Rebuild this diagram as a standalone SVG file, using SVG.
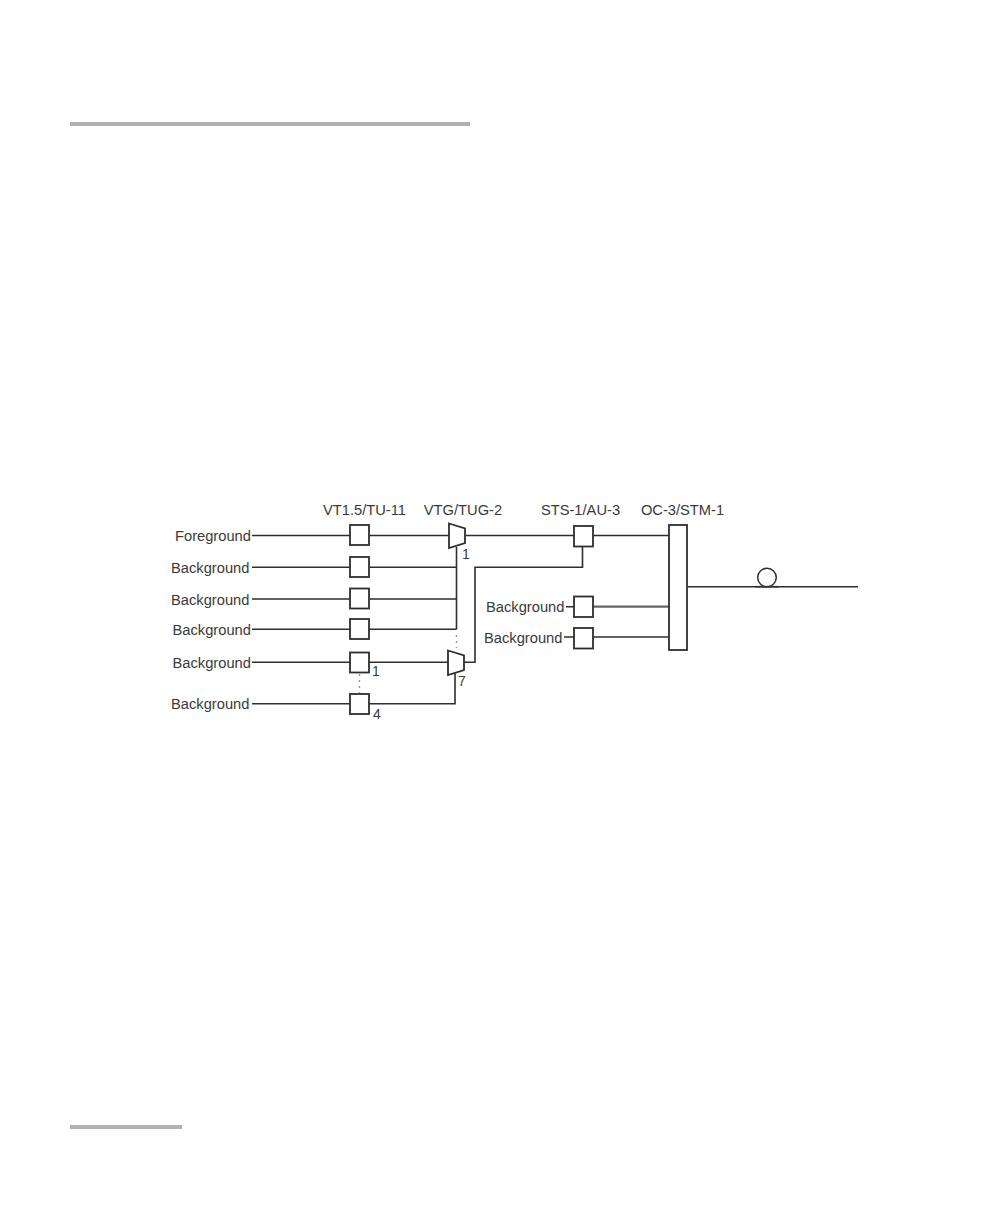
<svg xmlns="http://www.w3.org/2000/svg" width="1008" height="1224" viewBox="0 0 1008 1224">
<style>
.t{font-family:"Liberation Sans",Arial,sans-serif;font-size:14.7px;fill:#3a3a3a}
.n{font-size:14px}
.b{fill:#fff;stroke:#2e2e2e;stroke-width:1.8}
.c{fill:none;stroke:#2e2e2e;stroke-width:1.6}
.d{fill:none;stroke:#999;stroke-width:1.4;stroke-dasharray:2 4}
.r{fill:#b2b2b2}
</style>
<rect width="1008" height="1224" fill="#fff"/>
<rect class="r" x="70" y="122" width="400" height="4"/>
<rect class="r" x="70" y="1125" width="112" height="4"/>
<g id="connectors">
<path class="c" d="M252 535.500H449M252 567.300H456.500M252 599H456.500M252 629.300H456.500M252 662.300H448M252 703.700H455V672"/>
<path class="c" d="M456.500 547V629.300"/>
<path class="d" d="M456.500 635V648"/>
<path class="d" d="M359.500 674V693"/>
<path class="c" d="M465 535.500H574M464 662.300H475V567.300H582.500V546"/>
<path class="c" d="M592 535.500H669M592 637H669M688 586.700H858"/>
<path class="c" d="M566 606.700H574M564 637H574"/>
<path class="c" style="stroke:#666;stroke-width:2.200" d="M592 606.700H669"/>
</g>
<g id="vt1"><rect class="b" x="350" y="525" width="19" height="20"/></g>
<g id="vt2"><rect class="b" x="350" y="557" width="19" height="20"/></g>
<g id="vt3"><rect class="b" x="350" y="588.500" width="19" height="20"/></g>
<g id="vt4"><rect class="b" x="350" y="619" width="19" height="20"/></g>
<g id="vt5"><rect class="b" x="350" y="652.500" width="19" height="20"/></g>
<g id="vt6"><rect class="b" x="350" y="694" width="19" height="20"/></g>
<g id="mux1"><path class="b" d="M449 523.500L465 528.500V543L449 548Z"/></g>
<g id="mux2"><path class="b" d="M448 650.500L464 655.500V670L448 675Z"/></g>
<g id="sts1"><rect class="b" x="574" y="526" width="19" height="20.500"/></g>
<g id="sts2"><rect class="b" x="574" y="596.500" width="19" height="20.500"/></g>
<g id="sts3"><rect class="b" x="574" y="628" width="19" height="20.500"/></g>
<g id="oc3"><rect class="b" x="669" y="525" width="18" height="125"/></g>
<g id="fiber"><circle cx="767" cy="577.500" r="9.300" class="b" style="stroke-width:1.500"/><path class="c" d="M755 586.700H779"/></g>
<g id="labels">
<text class="t" x="364.500" y="514.500" text-anchor="middle">VT1.5/TU-11</text>
<text class="t" x="463" y="514.500" text-anchor="middle">VTG/TUG-2</text>
<text class="t" x="580.500" y="515" text-anchor="middle">STS-1/AU-3</text>
<text class="t" x="682.500" y="515" text-anchor="middle">OC-3/STM-1</text>
<text class="t" x="175" y="541">Foreground</text>
<text class="t" x="171" y="573">Background</text>
<text class="t" x="171" y="604.500">Background</text>
<text class="t" x="172.500" y="635">Background</text>
<text class="t" x="172.500" y="668">Background</text>
<text class="t" x="171" y="709">Background</text>
<text class="t" x="486" y="612">Background</text>
<text class="t" x="484" y="643">Background</text>
<text class="t n" x="462" y="559">1</text>
<text class="t n" x="372" y="676">1</text>
<text class="t n" x="458" y="686">7</text>
<text class="t n" x="373" y="719">4</text>
</g>
</svg>
